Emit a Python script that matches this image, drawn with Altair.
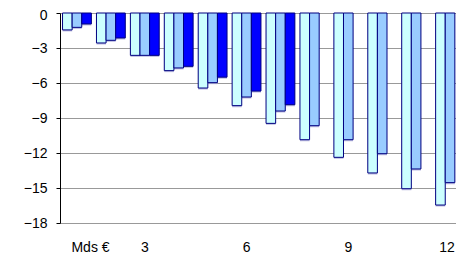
import altair as alt
import pandas as pd

groups = list(range(1, 13))
series_names = ["A", "B", "C"]
s1 = [-1.45, -2.57, -3.63, -4.94, -6.43, -7.94, -9.46, -10.86, -12.37, -13.71, -15.06, -16.46]
s2 = [-1.23, -2.34, -3.63, -4.71, -5.97, -7.20, -8.40, -9.66, -10.86, -12.06, -13.37, -14.54]
s3 = [-0.94, -2.14, -3.63, -4.57, -5.50, -6.69, -7.86, None, None, None, None, None]
colors = ["#CCFFFF", "#99CCFF", "#0000FF"]
y_ticks = [0, -3, -6, -9, -12, -15, -18]

rows = []
for name, vals in zip(series_names, [s1, s2, s3]):
    for g, v in zip(groups, vals):
        if v is not None:
            rows.append({"g": g, "s": name, "v": v})
df = pd.DataFrame(rows)

FONT = "Liberation Sans"
FS = 14

x_enc = alt.X("g:O", scale=alt.Scale(paddingInner=0.15, paddingOuter=0.075, range=[0, 407]),
              axis=alt.Axis(labelAngle=0, ticks=False, tickSize=0, domain=False,
                            labelExpr="datum.value % 3 == 0 ? datum.label : ''",
                            labelOffset=alt.condition("datum.value == 12", alt.value(-3), alt.value(0)),
                            labelBaseline="alphabetic", labelPadding=28,
                            labelFont=FONT, labelFontSize=FS, labelColor="black",
                            title="Mds €", titleX=30, titleY=28, titleBaseline="alphabetic",
                            titleAlign="center", titleFont=FONT, titleFontSize=FS,
                            titleFontWeight="normal", titleColor="black"))
xo_enc = alt.XOffset("s:N", sort=series_names,
                     scale=alt.Scale(domain=series_names, paddingInner=0, paddingOuter=0))
y_enc = alt.Y("v:Q", scale=alt.Scale(domain=[-18, 0], nice=False),
              axis=alt.Axis(values=y_ticks, title=None, domain=True, domainColor="black",
                            ticks=True, tickColor="black", tickSize=4, labelPadding=9,
                            labelOffset=alt.condition("datum.value == 0", alt.value(2), alt.value(0)),
                            labelFont=FONT, labelFontSize=FS, labelColor="black",
                            grid=True, gridColor="#999999", gridWidth=1))

base = alt.Chart(df)
shadow = base.mark_bar(xOffset=1.5, yOffset=1.5, color="#A8A8D8", opacity=0.8).encode(
    x=x_enc, xOffset=xo_enc, y=y_enc)
bars = base.mark_bar(stroke="#000080", strokeWidth=1).encode(
    x=x_enc, xOffset=xo_enc, y=y_enc,
    color=alt.Color("s:N", scale=alt.Scale(domain=series_names, range=colors), legend=None),
)

chart = alt.layer(shadow, bars).properties(
    width=396, height=210,
    autosize=alt.AutoSizeParams(type="none"),
    padding={"left": 52, "top": 5, "right": 0, "bottom": 32},
).configure_view(stroke=None)

chart.save("out.html", embed_options={"renderer": "svg", "actions": False})
